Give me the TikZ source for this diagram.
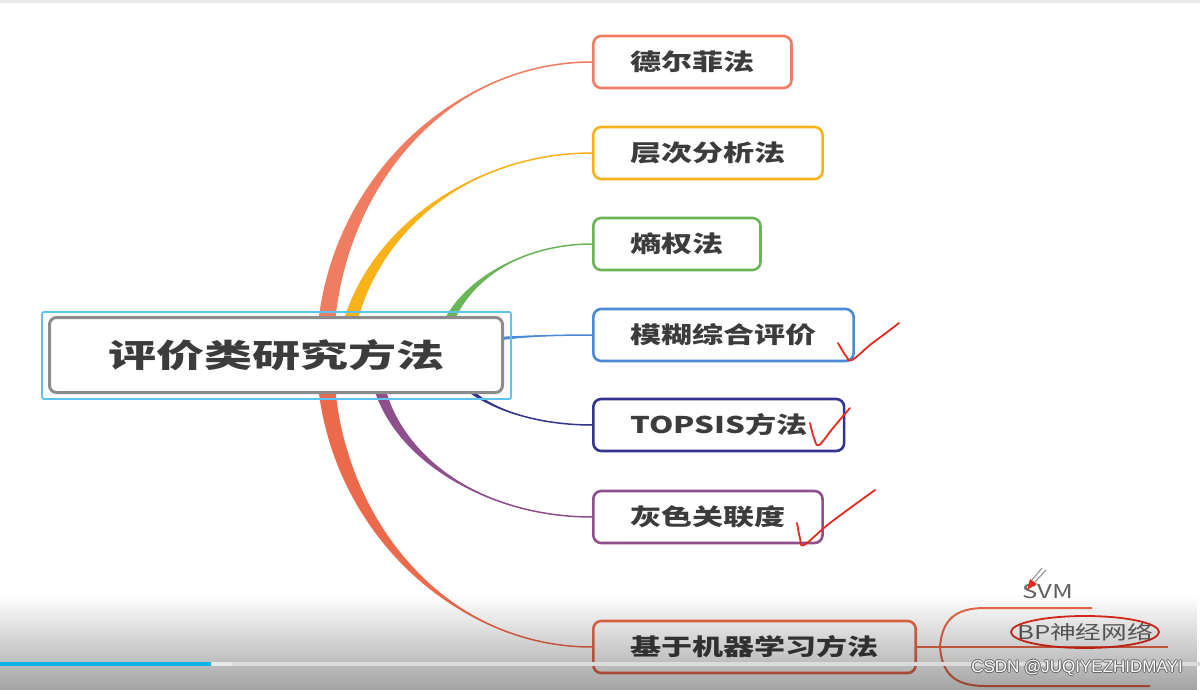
\documentclass[tikz,border=0pt]{standalone}
\usepackage{fontspec}
\setmainfont{Noto Sans CJK SC}[FakeStretch=1.35]
\newfontfamily\rootfont{Noto Sans CJK SC}[FakeStretch=1.5]
\newfontfamily\wmfont{Liberation Sans}
\usetikzlibrary{calc,fadings}
\pgfdeclarelayer{bg}
\pgfdeclarelayer{edges}
\pgfsetlayers{bg,edges,main}
\definecolor{cDel}{HTML}{F07D62}
\definecolor{cAhp}{HTML}{F8B21A}
\definecolor{cEnt}{HTML}{6AB556}
\definecolor{cFuz}{HTML}{4A8AD6}
\definecolor{cTop}{HTML}{34348E}
\definecolor{cGra}{HTML}{8E4F8C}
\definecolor{cMl}{HTML}{EC6A4C}
\definecolor{cSel}{HTML}{5CC3F2}
\definecolor{txt}{HTML}{3C3C3C}
\definecolor{tickred}{HTML}{E52A1E}
\definecolor{barblue}{HTML}{0AB0EC}
\tikzfading[name=fadedown,top color=transparent!100,middle color=transparent!78,bottom color=transparent!0]
\newcommand\taper[5]{%
  \coordinate (ca) at ($(#2)!.55!(#2|-#3)$);
  \coordinate (cb) at ($(#3)!.55!(#2|-#3)$);
  \fill[#1] ($(#2)+(-#4,-#5)$) .. controls ($(ca)+(-#4,-#5)$) and (cb) .. (#3)
    .. controls (cb) and ($(ca)+(#4,#5)$) .. ($(#2)+(#4,#5)$) -- cycle;
  \draw[#1,line width=1.5] (#2) .. controls (ca) and (cb) .. (#3);}

\begin{document}
\begin{tikzpicture}[x=1pt,y=-1pt,
  leaf/.style={draw=#1,line width=2.6,rounded corners=8,fill=white,text=txt,
    font=\fontsize{23}{28}\selectfont\bfseries,inner xsep=37,minimum height=52,anchor=west},
  sub/.style={text=black!62,font=\fontsize{19}{22}\selectfont,inner sep=1},
  mlline/.style={draw=cMl,line width=2},
  tick/.style={draw=tickred,line width=1.8,line cap=round,line join=round},
  wmark/.style={font=\wmfont\fontsize{17}{20}\selectfont,text=white,inner sep=0}]
\useasboundingbox (0,0) rectangle (1200,690);
\begin{pgfonlayer}{bg}
\fill[white] (0,0) rectangle (1200,690);
\fill[black!8] (0,0) rectangle (1200,3);
\end{pgfonlayer}

\node[draw=black!45,line width=3,rounded corners=7,fill=white,text=txt,
  minimum width=453,minimum height=75,
  font=\rootfont\fontsize{32}{38}\selectfont\bfseries] (root) at (276,355) {评价类研究方法};
\draw[cSel,line width=1.8,rounded corners=2] ($(root.north west)+(-6,-4)$) rectangle ($(root.south east)+(7,5)$);
\node[leaf=cDel] (del) at (592,62) {德尔菲法};
\node[leaf=cAhp] (ahp) at (592,153) {层次分析法};
\node[leaf=cEnt] (ent) at (592,244) {熵权法};
\node[leaf=cFuz] (fuz) at (592,335) {模糊综合评价};
\node[leaf=cTop] (top) at (592,425) {TOPSIS方法};
\node[leaf=cGra] (gra) at (592,517) {灰色关联度};
\node[leaf=cMl] (ml) at (592,647) {基于机器学习方法};

\coordinate (sdel) at (325,355);\coordinate (sahp) at (343,375);
\coordinate (sent) at (440,360);\coordinate (sfuz) at (482,343);
\coordinate (stop) at (450,355);\coordinate (sgra) at (375,355);
\coordinate (sml) at (325,355);
\begin{pgfonlayer}{edges}
\taper{cDel}{sdel}{del.west}{8.5}{0}
\taper{cAhp}{sahp}{ahp.west}{7.5}{0}
\taper{cEnt}{sent}{ent.west}{6}{0}
\taper{cFuz}{sfuz}{fuz.west}{0}{2.5}
\taper{cTop}{stop}{top.west}{4.5}{0}
\taper{cGra}{sgra}{gra.west}{6}{0}
\taper{cMl}{sml}{ml.west}{8.5}{0}
\end{pgfonlayer}

\coordinate (mlj) at (940,647);
\node[sub] (svm) at (1048,592) {SVM};
\node[sub] (bp) at (1085,632) {BP神经网络};
\draw[mlline] (ml.east) -- (mlj) -- (1168,647);
\draw[mlline] (mlj) .. controls (942,620) and (955,608) .. (985,608) -- (1092,608);
\draw[mlline] (mlj) .. controls (942,674) and (955,686) .. (985,686) -- (1150,686);

\draw[tick] plot[smooth,tension=.6] coordinates {(838,343) (846,356) (852,360) (870,345) (886,333) (899,323)};
\draw[tick] plot[smooth,tension=.6] coordinates {(810,423) (814,438) (819,445) (833,428) (850,408)};
\draw[tick] plot[smooth,tension=.6] coordinates {(797,523) (800,538) (804,545) (830,523) (875,490)};
\draw[tick] (bp) ellipse [x radius=74,y radius=16];
\draw[black!45,line width=1] (1046,570) -- (1035,582) (1042,568) -- (1032,580);
\fill[tickred] (1030,579) -- (1037,584) -- (1027,590) -- cycle;

\fill[black,path fading=fadedown,fill opacity=.36] (0,595) rectangle (1200,690);
\fill[black!14] (232,662) rectangle (1200,666);
\fill[black!9] (211,662) rectangle (232,666);
\fill[barblue] (0,662) rectangle (211,666);
\foreach \dx/\dy in {1/0,-1/0,0/1,0/-1}
  \node[wmark,text=black!60] at ($(1077,668)+(\dx,\dy)$) {CSDN @JUQIYEZHIDMAYI};
\node[wmark] (wm) at (1077,668) {CSDN @JUQIYEZHIDMAYI};
\end{tikzpicture}
\end{document}
